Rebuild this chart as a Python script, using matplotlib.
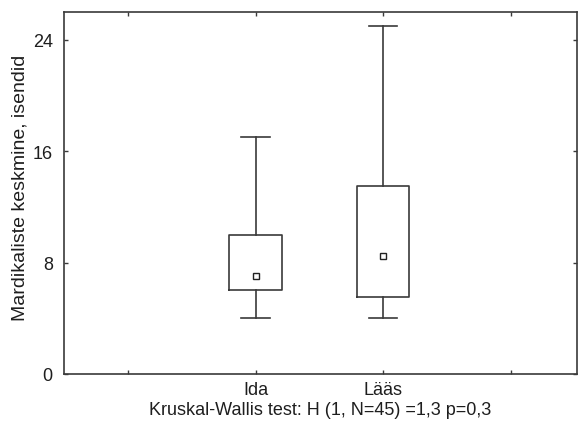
import matplotlib.pyplot as plt

plt.rcParams['font.family'] = ['Liberation Sans', 'DejaVu Sans']

# data
regions = ["Ida", "Lääs"]
medians = [7.0, 8.5]
q1 = [6.0, 5.5]
q3 = [10.0, 13.5]
whisker_lo = [4.0, 4.0]
whisker_hi = [17.0, 25.0]
positions = [1, 2]

line_col = "#3a3a3a"
text_col = "#1e1e1e"

fig = plt.figure(figsize=(5.78, 4.31), dpi=100)
ax = fig.add_axes([0.1107, 0.13, 0.888, 0.84])

stats = [
    dict(med=m, q1=a, q3=b, whislo=lo, whishi=hi, label=r)
    for r, m, a, b, lo, hi in zip(regions, medians, q1, q3, whisker_lo, whisker_hi)
]
ax.bxp(
    stats,
    positions=positions,
    widths=0.41,
    showfliers=False,
    boxprops=dict(color=line_col, linewidth=1.2),
    whiskerprops=dict(color=line_col, linewidth=1.2),
    capprops=dict(color=line_col, linewidth=1.2),
    medianprops=dict(linewidth=0),
    capwidths=0.22,
)
ax.plot(positions, medians, linestyle="none", marker="s", markersize=4,
        markerfacecolor="white", markeredgecolor="#222222", markeredgewidth=1.0)

ax.set_xlim(-0.5, 3.52)
ax.set_ylim(0, 26)
ax.set_xticks([0, 1, 2, 3])
ax.set_xticklabels(["", "Ida", "Lääs", ""])
ax.set_yticks([0, 8, 16, 24])

ax.tick_params(direction="in", length=3, width=1, color=line_col,
               labelcolor=text_col, top=True, right=True, labelsize=13)
ax.tick_params(axis="y", pad=8)
ax.tick_params(axis="x", pad=5)

for s in ax.spines.values():
    s.set_color(line_col)
    s.set_linewidth(1.2)

ax.set_ylabel("Mardikaliste keskmine, isendid", fontsize=14, color=text_col)
ax.yaxis.set_label_coords(-0.07, 0.517)
ax.set_xlabel("Kruskal-Wallis test: H (1, N=45) =1,3 p=0,3", fontsize=13,
              color=text_col, labelpad=2)

fig.savefig("out.png", dpi=100)
